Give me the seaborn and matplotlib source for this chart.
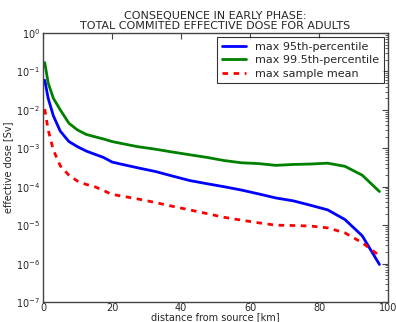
import matplotlib
matplotlib.use("Agg")
import matplotlib.pyplot as plt
import seaborn as sns
import pandas as pd
import numpy as np

distance = [0.5, 1.5, 3, 5, 7.5, 10, 12.5, 15, 17.5, 20, 22.5, 27.5, 32.5, 37.5,
            42.5, 47.5, 52.5, 57.5, 62.5, 67.5, 72.5, 77.5, 82.5, 87.5, 92.5, 97.5]
p95 = [0.059, 0.02, 7e-3, 2.8e-3, 1.5e-3, 1.1e-3, 8.5e-4, 7e-4, 5.8e-4, 4.4e-4,
       3.9e-4, 3.1e-4, 2.5e-4, 1.9e-4, 1.45e-4, 1.2e-4, 1.0e-4, 8.2e-5, 6.5e-5,
       5.1e-5, 4.3e-5, 3.3e-5, 2.5e-5, 1.4e-5, 5.3e-6, 9.5e-7]
p995 = [0.17, 0.05, 0.02, 0.01, 4.5e-3, 3e-3, 2.3e-3, 2.0e-3, 1.75e-3, 1.5e-3,
        1.35e-3, 1.1e-3, 9.5e-4, 8e-4, 6.8e-4, 5.8e-4, 4.8e-4, 4.2e-4, 4.0e-4,
        3.6e-4, 3.8e-4, 3.9e-4, 4.1e-4, 3.4e-4, 2.0e-4, 7.5e-5]
mean = [0.0105, 3e-3, 9e-4, 3.5e-4, 2.0e-4, 1.4e-4, 1.15e-4, 1.0e-4, 8e-5, 6.3e-5,
        5.8e-5, 4.8e-5, 3.9e-5, 3.1e-5, 2.5e-5, 2.0e-5, 1.6e-5, 1.35e-5, 1.15e-5,
        1.0e-5, 9.8e-6, 9.5e-6, 8.5e-6, 6.3e-6, 3.5e-6, 1.6e-6]
series_names = ["max 95th-percentile", "max 99.5th-percentile", "max sample mean"]

df = pd.concat([
    pd.DataFrame({"distance": distance, "dose": p95, "series": series_names[0]}),
    pd.DataFrame({"distance": distance, "dose": p995, "series": series_names[1]}),
    pd.DataFrame({"distance": distance, "dose": mean, "series": series_names[2]}),
])

sns.set_style("white")
plt.rcParams["font.family"] = ["DejaVu Sans"]

fig = plt.figure(figsize=(3.96, 3.22), dpi=100)
ax = fig.add_axes([0.1086, 0.062, 0.8714, 0.8355])

palette = {series_names[0]: "#0000ff", series_names[1]: "#008000", series_names[2]: "#ff0000"}
dashes = {series_names[0]: "", series_names[1]: "", series_names[2]: (2, 2)}
sns.lineplot(data=df, x="distance", y="dose", hue="series", style="series",
             palette=palette, dashes=dashes, linewidth=2, ax=ax, legend=True)

ax.set_yscale("log")
ax.set_xlim(0, 100)
ax.set_ylim(1e-7, 1)
ax.set_xticks([0, 20, 40, 60, 80, 100])
ax.set_title("CONSEQUENCE IN EARLY PHASE:\nTOTAL COMMITED EFFECTIVE DOSE FOR ADULTS",
             fontsize=8, pad=3, linespacing=1.0)
ax.set_xlabel("distance from source [km]", fontsize=7, labelpad=-1)
ax.set_ylabel("effective dose [Sv]", fontsize=7, labelpad=2)
ax.tick_params(which="both", direction="in", top=True, right=True, labelsize=7,
               color="#444444")
ax.tick_params(axis="x", pad=1)
ax.tick_params(axis="y", pad=2)
ax.tick_params(which="major", length=4)
ax.tick_params(which="minor", length=2)
for s in ax.spines.values():
    s.set_color("#444444")
    s.set_linewidth(1)

leg = ax.legend(loc="upper right", fontsize=8, frameon=True, fancybox=False,
                borderaxespad=0.4, handlelength=2.2, labelspacing=0.3)
leg.get_frame().set_edgecolor("black")
leg.get_frame().set_linewidth(0.8)

fig.savefig("out.png", dpi=100)
